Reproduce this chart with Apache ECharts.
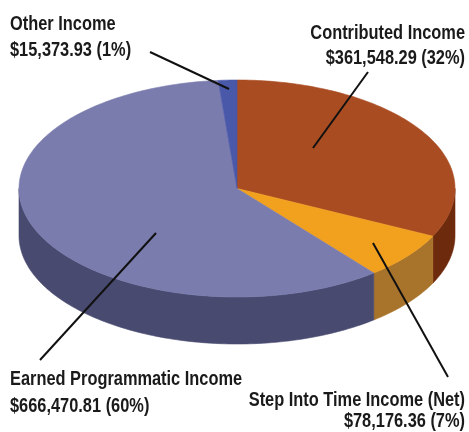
<!DOCTYPE html>
<html>
<head>
<meta charset="utf-8">
<script src="https://cdn.jsdelivr.net/npm/echarts@6/dist/echarts.min.js"></script>
<style>
  html, body { margin: 0; padding: 0; background: #ffffff; }
  #chart { width: 469px; height: 432px; }
</style>
</head>
<body>
<div id="chart"></div>
<script>
// Income sources, listed clockwise from 12 o'clock
const categories = [
  'Contributed Income',
  'Step Into Time Income (Net)',
  'Earned Programmatic Income',
  'Other Income'
];
const amounts = [361548.29, 78176.36, 666470.81, 15373.93];
const percentLabels = ['32%', '7%', '60%', '1%'];

// Face colours for each slice: top surface and the visible rim
const topColors  = ['#A94C22', '#F2A11F', '#7B7CAE', '#4A58AA'];
const sideColors = ['#6E2A0D', '#A8732A', '#484A70', '#343E80'];

// Tilted-disc geometry (pixels)
const CX = 237, CY = 188.5, RX = 218, RY = 108.5, DEPTH = 47;

// Label placement: anchor, alignment, line spacing, leader line [from, to]
const labelLayout = [
  { x: 465, y: 45.5,  align: 'right', lh: 25,   line: [[368, 72], [313, 148]] },
  { x: 465, y: 410.5, align: 'right', lh: 20.5, line: [[373, 243], [448, 377]] },
  { x: 10,  y: 393,   align: 'left',  lh: 27,   line: [[156, 233], [40, 360]] },
  { x: 10,  y: 37.7,  align: 'left',  lh: 26,   line: [[150, 52], [229, 89]] }
];

const total = amounts.reduce((s, v) => s + v, 0);
let running = 0;
const sliceData = amounts.map((v) => {
  const start = running / total;
  running += v;
  return [v, start, running / total];
});

const fmt = (v) => '$' + v.toLocaleString('en-US', { minimumFractionDigits: 2, maximumFractionDigits: 2 });
// Condensed bold lettering: a regular bold face squeezed horizontally
const FONT = 'bold 21px "Liberation Sans", Arial, sans-serif';
const SQUEEZE = 0.78;

function point(t, dz) {
  return [CX + RX * Math.sin(t), CY - RY * Math.cos(t) + dz];
}

function arc(a0, a1, dz) {
  const pts = [];
  const n = Math.max(2, Math.ceil(Math.abs(a1 - a0) / 0.02));
  for (let k = 0; k <= n; k++) {
    pts.push(point(a0 + (a1 - a0) * k / n, dz));
  }
  return pts;
}

function renderSlice(params, api) {
  const i = params.dataIndex;
  const a0 = api.value(1) * Math.PI * 2;
  const a1 = api.value(2) * Math.PI * 2;
  const children = [];

  // Rim: only the front half of the disc is visible
  const s0 = Math.max(a0, Math.PI / 2);
  const s1 = Math.min(a1, Math.PI * 1.5);
  if (s1 > s0) {
    const rim = arc(s0, s1, 0).concat(arc(s1, s0, DEPTH));
    children.push({
      type: 'polygon',
      shape: { points: rim },
      style: { fill: sideColors[i], stroke: sideColors[i], lineWidth: 0.6 }
    });
  }

  // Top surface
  const topPts = [[CX, CY]].concat(arc(a0, a1, 0));
  children.push({
    type: 'polygon',
    shape: { points: topPts },
    style: { fill: topColors[i], stroke: topColors[i], lineWidth: 0.6 }
  });

  return { type: 'group', children: children };
}

const graphics = [];
labelLayout.forEach((lab, i) => {
  graphics.push({
    type: 'line',
    shape: { x1: lab.line[0][0], y1: lab.line[0][1], x2: lab.line[1][0], y2: lab.line[1][1] },
    style: { stroke: '#111111', lineWidth: 2 },
    z: 10
  });
  graphics.push({
    type: 'text',
    x: lab.x,
    y: lab.y,
    scaleX: SQUEEZE,
    style: {
      text: categories[i] + '\n' + fmt(amounts[i]) + ' (' + percentLabels[i] + ')',
      font: FONT,
      fill: '#1a1a1a',
      align: lab.align,
      verticalAlign: 'middle',
      lineHeight: lab.lh
    },
    z: 10
  });
});

const chart = echarts.init(document.getElementById('chart'), null, { renderer: 'canvas' });
chart.setOption({
  backgroundColor: '#ffffff',
  animation: false,
  series: [{
    type: 'custom',
    coordinateSystem: 'none',
    renderItem: renderSlice,
    data: sliceData,
    silent: true
  }],
  graphic: graphics
});
</script>
</body>
</html>
